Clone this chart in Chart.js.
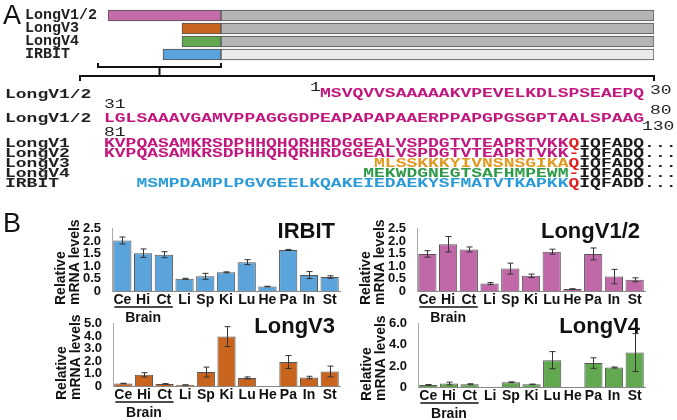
<!DOCTYPE html>
<html>
<head>
<meta charset="utf-8">
<script src="https://cdn.jsdelivr.net/npm/chart.js@4.4.1/dist/chart.umd.min.js"></script>
<style>
  body { margin: 0; background: #fff; }
  #fig { position: relative; width: 677px; height: 420px; overflow: hidden; background: #fff; }
  #fig canvas { position: absolute; }
  .letter { position: absolute; font: 27px "Liberation Sans", Arial, sans-serif; color: #111; line-height: 28px; }
  .seq { position: absolute; font: bold 12px "Liberation Mono", monospace; line-height: 10px;
         white-space: pre; transform: scaleX(1.5); transform-origin: 0 0; color: #222; }
  .num { font-weight: normal; color: #222; }
  .mg { color: #C2187E; } .gd { color: #E09A20; } .gr { color: #2E9A48; }
  .bl { color: #2A9BD8; } .rd { color: #E0201E; } .bk { color: #1a1a1a; }
</style>
</head>
<body>
<div id="fig">
  <canvas id="scheme" width="677" height="84" style="left:0;top:0"></canvas>
  <div class="letter" style="left:3px;top:1px">A</div>
  <div class="letter" style="left:3px;top:209px">B</div>

  <!-- alignment, column 0 at x=104, 10.8px per residue -->
  <div class="seq" style="left:5px;top:90px">LongV1/2</div>
  <div class="seq num" style="left:310px;top:83px">1</div>
  <div class="seq mg" style="left:104px;top:89px">                    MSVQVVSAAAAAKVPEVELKDLSPSEAEPQ</div>
  <div class="seq num" style="left:650px;top:86px">30</div>

  <div class="seq num" style="left:104px;top:100px">31</div>
  <div class="seq" style="left:5px;top:114px">LongV1/2</div>
  <div class="seq mg" style="left:104px;top:114px">LGLSAAAVGAMVPPAGGGDPEAPAPAPAAERPPAPGPGSGPTAALSPAAG</div>
  <div class="seq num" style="left:650px;top:106px">80</div>

  <div class="seq num" style="left:104px;top:128px">81</div>
  <div class="seq num" style="left:642px;top:122px">130</div>
  <div class="seq" style="left:5px;top:139px">LongV1</div>
  <div class="seq" style="left:104px;top:139px"><span class="mg">KVPQASAMKRSDPHHQHQRHRDGGEALVSPDGTVTEAPRTVKK</span><span class="rd">Q</span><span class="bk">IQFADQ...</span></div>
  <div class="seq" style="left:5px;top:149px">LongV2</div>
  <div class="seq" style="left:104px;top:149px"><span class="mg">KVPQASAMKRSDPHHQHQRHRDGGEALVSPDGTVTEAPRTVKK</span><span class="rd">-</span><span class="bk">IQFADQ...</span></div>
  <div class="seq" style="left:5px;top:159px">LongV3</div>
  <div class="seq" style="left:104px;top:159px"><span class="gd">                         MLSSKKKYIVNSNSGIKA</span><span class="rd">Q</span><span class="bk">IQFADQ...</span></div>
  <div class="seq" style="left:5px;top:169px">LongV4</div>
  <div class="seq" style="left:104px;top:169px"><span class="gr">                        MEKWDGNEGTSAFHMPEWM</span><span class="rd">-</span><span class="bk">IQFADQ...</span></div>
  <div class="seq" style="left:5px;top:179px">IRBIT</div>
  <div class="seq" style="left:104px;top:179px"><span class="bl">   MSMPDAMPLPGVGEELKQAKEIEDAEKYSFMATVTKAPKK</span><span class="rd">Q</span><span class="bk">IQFADD...</span></div>

  <canvas id="cIrbit" width="345" height="120" style="left:0;top:210px"></canvas>
  <canvas id="cV12" width="345" height="120" style="left:305px;top:210px"></canvas>
  <canvas id="cV3" width="345" height="115" style="left:0;top:305px"></canvas>
  <canvas id="cV4" width="345" height="115" style="left:305px;top:305px"></canvas>
</div>

<script>
// panel A schematic (arbitrary length units)
const schemeRows = ['LongV1/2', 'LongV3', 'LongV4', 'IRBIT'];
const schemeStart = [0, 74, 74, 55];
const schemeJunction = [113, 113, 113, 113];
const schemeEnd = [546, 546, 546, 546];
const schemeHeadColors = ['#C46CA8', '#C8641E', '#62A850', '#5BA3DB'];
const schemeTailColors = ['#B4B4B4', '#B4B4B4', '#B4B4B4', '#EAEAEA'];

// panel B: relative mRNA levels, mean and error
const tissues = ['Ce', 'Hi', 'Ct', 'Li', 'Sp', 'Ki', 'Lu', 'He', 'Pa', 'In', 'St'];
const irbitMean = [2.03, 1.52, 1.46, 0.49, 0.59, 0.75, 1.16, 0.18, 1.65, 0.64, 0.56];
const irbitErr  = [0.14, 0.17, 0.12, 0.02, 0.12, 0.02, 0.10, 0.01, 0.02, 0.14, 0.05];
const v12Mean = [1.49, 1.88, 1.67, 0.30, 0.90, 0.61, 1.58, 0.08, 1.49, 0.58, 0.45];
const v12Err  = [0.13, 0.31, 0.10, 0.04, 0.22, 0.07, 0.10, 0.01, 0.24, 0.29, 0.08];
const v3Mean = [0.20, 0.90, 0.17, 0.08, 1.12, 3.97, 0.65, 0.01, 1.93, 0.68, 1.17];
const v3Err  = [0.02, 0.17, 0.02, 0.01, 0.40, 0.80, 0.08, 0, 0.52, 0.10, 0.43];
const v4Mean = [0.20, 0.33, 0.26, 0.03, 0.45, 0.25, 2.55, 0.01, 2.27, 1.85, 3.27];
const v4Err  = [0.03, 0.13, 0.05, 0, 0.04, 0.03, 0.81, 0, 0.50, 0.05, 1.80];

const sans = '"Liberation Sans", Arial, sans-serif';

// brackets under the schematic
const bracketPlugin = {
    id: 'brackets',
    afterDraw(chart) {
        const ctx = chart.ctx;
        const x = chart.scales.x;
        const a = x.getPixelForValue(-10), b = x.getPixelForValue(schemeJunction[0]);
        const mid = (a + b) / 2;
        const l = x.getPixelForValue(-28), r = x.getPixelForValue(schemeEnd[0]);
        ctx.save();
        ctx.strokeStyle = '#111';
        ctx.lineWidth = 2;
        ctx.beginPath();
        ctx.moveTo(a, 63); ctx.lineTo(a, 67); ctx.lineTo(b, 67); ctx.lineTo(b, 63);
        ctx.moveTo(mid, 67); ctx.lineTo(mid, 76);
        ctx.moveTo(l, 81); ctx.lineTo(l, 76); ctx.lineTo(r, 76); ctx.lineTo(r, 81);
        ctx.stroke();
        ctx.restore();
    }
};

new Chart(document.getElementById('scheme'), {
    type: 'bar',
    data: {
        labels: schemeRows,
        datasets: [{
            data: schemeRows.map((_, i) => [schemeStart[i], schemeJunction[i]]),
            backgroundColor: schemeHeadColors
        }, {
            data: schemeRows.map((_, i) => [schemeJunction[i], schemeEnd[i]]),
            backgroundColor: schemeTailColors
        }]
    },
    options: {
        indexAxis: 'y',
        responsive: false,
        animation: false,
        layout: { padding: { left: 25, right: 23, top: 2, bottom: 23 } },
        datasets: {
            bar: { grouped: false, barThickness: 11, borderColor: '#555', borderWidth: 1, borderSkipped: false }
        },
        plugins: { legend: { display: false }, tooltip: { enabled: false } },
        scales: {
            x: { display: false, min: 0, max: 546 },
            y: {
                grid: { display: false, drawTicks: false },
                border: { display: false },
                ticks: { crossAlign: 'far', padding: 0, color: '#222', autoSkip: false,
                         font: { family: '"Liberation Mono", monospace', size: 15, weight: 'bold' } },
                afterFit: s => { s.width = 83; }
            }
        }
    },
    plugins: [bracketPlugin]
});

// error bars, panel title, axis title and "Brain" bracket
const panelDeco = {
    id: 'panelDeco',
    afterDatasetsDraw(chart, args, opts) {
        const ctx = chart.ctx;
        const x = chart.scales.x, y = chart.scales.y, area = chart.chartArea;
        const means = chart.data.datasets[0].data;
        ctx.save();
        ctx.strokeStyle = '#333';
        ctx.lineWidth = 1;
        chart.getDatasetMeta(0).data.forEach((bar, i) => {
            const e = opts.errs[i];
            if (!e) return;
            const top = y.getPixelForValue(means[i] + e), bot = y.getPixelForValue(means[i] - e);
            const cx = Math.round(bar.x) + 0.5;
            ctx.beginPath();
            ctx.moveTo(cx, top); ctx.lineTo(cx, bot);
            ctx.moveTo(cx - 3, top); ctx.lineTo(cx + 3, top);
            ctx.moveTo(cx - 3, bot); ctx.lineTo(cx + 3, bot);
            ctx.stroke();
        });

        ctx.fillStyle = '#111';
        ctx.textBaseline = 'middle';
        ctx.font = 'bold 22px ' + sans;
        ctx.textAlign = 'right';
        ctx.fillText(opts.title, area.right - 5, area.top + 3);

        ctx.font = 'bold 14px ' + sans;
        ctx.textAlign = 'left';
        [['Relative', 51], ['mRNA levels', 37]].forEach(([t, dx]) => {
            ctx.save();
            ctx.translate(area.left - dx, area.bottom + 14);
            ctx.rotate(-Math.PI / 2);
            ctx.fillText(t, 0, 0);
            ctx.restore();
        });

        const x0 = x.getPixelForValue(0) - 8, x2 = x.getPixelForValue(2) + 9;
        ctx.strokeStyle = '#111';
        ctx.lineWidth = 1.5;
        ctx.beginPath();
        ctx.moveTo(x0, area.bottom + 16); ctx.lineTo(x2, area.bottom + 16);
        ctx.stroke();
        ctx.font = 'bold 14px ' + sans;
        ctx.textAlign = 'center';
        ctx.fillText('Brain', x.getPixelForValue(1), area.bottom + 27);
        ctx.restore();
    }
};

function makePanel(id, means, errs, color, title, max, step, padTop, xHeight, yWidth) {
    new Chart(document.getElementById(id), {
        type: 'bar',
        data: {
            labels: tissues,
            datasets: [{
                data: means,
                backgroundColor: color,
                borderColor: '#555',
                borderWidth: 1,
                barPercentage: 0.88,
                categoryPercentage: 1
            }]
        },
        options: {
            responsive: false,
            animation: false,
            layout: { padding: { top: padTop, right: 5 } },
            plugins: {
                legend: { display: false },
                tooltip: { enabled: false },
                panelDeco: { title: title, errs: errs }
            },
            scales: {
                x: {
                    grid: { display: false, drawTicks: false },
                    border: { color: '#888' },
                    ticks: { color: '#111', padding: 1, autoSkip: false, maxRotation: 0,
                             font: { family: sans, size: 14, weight: 'bold' } },
                    afterFit: s => { s.height = xHeight; }
                },
                y: {
                    min: 0, max: max,
                    grid: { display: false, drawTicks: false },
                    border: { color: '#aaa' },
                    ticks: { stepSize: step, padding: 11, color: '#111', autoSkip: false,
                             font: { family: sans, size: 13, weight: 'bold' },
                             callback: v => v === 0 ? '0' : v.toFixed(1) },
                    afterFit: s => { s.width = yWidth; }
                }
            }
        },
        plugins: [panelDeco]
    });
}

makePanel('cIrbit', irbitMean, irbitErr, '#5BA3DB', 'IRBIT', 2.5, 0.5, 14, 39, 112);
makePanel('cV12', v12Mean, v12Err, '#C068A8', 'LongV1/2', 2.5, 0.5, 14, 39, 112);
makePanel('cV3', v3Mean, v3Err, '#C8641E', 'LongV3', 5, 1, 16, 34, 113);
makePanel('cV4', v4Mean, v4Err, '#62A850', 'LongV4', 6, 2, 16, 33, 113);
</script>
</body>
</html>
